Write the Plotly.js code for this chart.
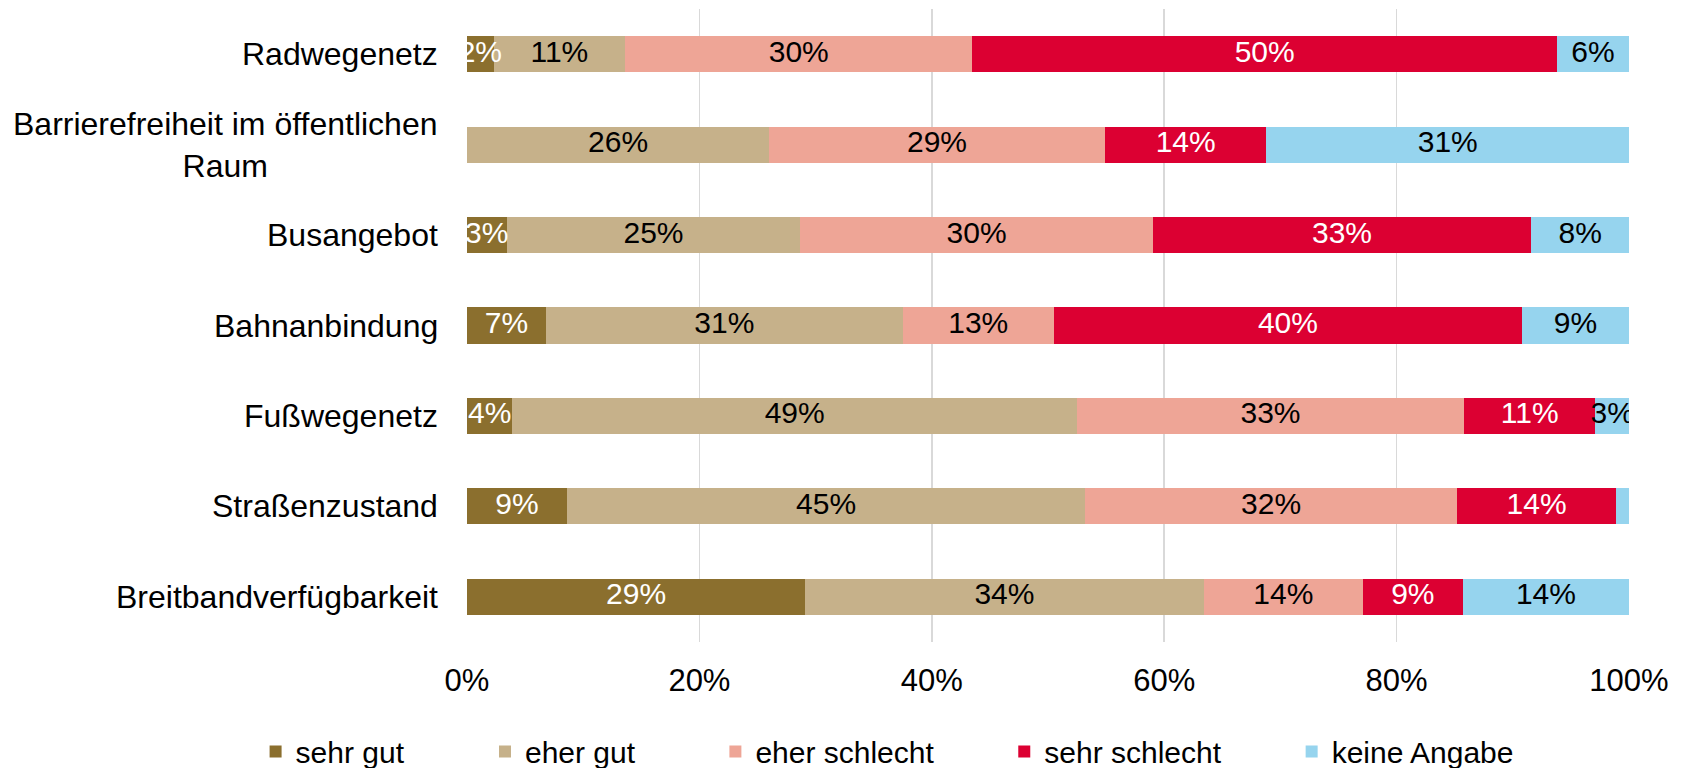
<!DOCTYPE html>
<html>
<head>
<meta charset="utf-8">
<script src="https://cdn.plot.ly/plotly-3.0.1.min.js"></script>
<style>
html, body { margin: 0; padding: 0; background: #fff; }
#chart { width: 1688px; height: 768px; }
</style>
</head>
<body>
<div id="chart"></div>
<script>
// Categories, top to bottom
const categories = [
  'Radwegenetz',
  'Barrierefreiheit im öffentlichen<br>Raum',
  'Busangebot',
  'Bahnanbindung',
  'Fußwegenetz',
  'Straßenzustand',
  'Breitbandverfügbarkeit'
];
const seriesNames = ['sehr gut', 'eher gut', 'eher schlecht', 'sehr schlecht', 'keine Angabe'];
const sehrGut      = [2.3, 0,    3.4,  6.8,  3.9,  8.6,  29.1];
const eherGut      = [11.3, 26.0, 25.3, 30.7, 48.6, 44.6, 34.3];
const eherSchlecht = [29.9, 28.9, 30.3, 13.0, 33.3, 32.0, 13.7];
const sehrSchlecht = [50.3, 13.9, 32.6, 40.3, 11.3, 13.7, 8.6];
const keineAngabe  = [6.2, 31.2, 8.4,  9.2,  2.9,  1.1,  14.3];
const xTicks = [0, 20, 40, 60, 80, 100];

const seriesValues = [sehrGut, eherGut, eherSchlecht, sehrSchlecht, keineAngabe];
const colors = ['#8B6F2E', '#C6B18A', '#EEA596', '#DC0032', '#96D4EE'];
const textColors = ['#FFFFFF', '#000000', '#000000', '#FFFFFF', '#000000'];
const FONT = '"Liberation Sans", Arial, sans-serif';

const legendNames = ['legend', 'legend2', 'legend3', 'legend4', 'legend5'];
const legendPix = [255, 484.5, 715, 1004, 1291.5];
const plotL = 466.5, plotW = 1162.5;

const traces = [];
seriesValues.forEach((vals, i) => {
  traces.push({
    type: 'bar',
    orientation: 'h',
    name: seriesNames[i],
    y: categories,
    x: vals,
    marker: { color: colors[i], line: { width: 0 } },
    legend: legendNames[i],
    hoverinfo: 'skip'
  });
});
// data labels as text-only scatter traces on top of all bars
const cum = categories.map(() => 0);
seriesValues.forEach((vals, i) => {
  const mids = vals.map((v, j) => cum[j] + v / 2);
  vals.forEach((v, j) => { cum[j] += v; });
  traces.push({
    type: 'scatter',
    mode: 'text',
    y: categories,
    x: mids,
    text: vals.map(v => v >= 1.5 ? Math.round(v) + '%' : ''),
    textposition: 'middle center',
    textfont: { family: FONT, size: 30, color: textColors[i] },
    showlegend: false,
    hoverinfo: 'skip',
    cliponaxis: true
  });
});

const annotations = categories.map(c => ({
  xref: 'paper', yref: 'y',
  x: 0, y: c,
  xanchor: 'right', yanchor: 'middle',
  xshift: -27,
  align: 'center',
  showarrow: false,
  text: c,
  font: { family: FONT, size: 32, color: '#000' }
}));

const layout = {
  width: 1688, height: 768,
  margin: { l: 466.5, r: 59, t: 9, b: 126, autoexpand: false },
  paper_bgcolor: '#fff', plot_bgcolor: '#fff',
  barmode: 'stack',
  bargap: 0.6,
  font: { family: FONT, color: '#000' },
  xaxis: {
    range: [0, 100],
    tickvals: xTicks,
    ticktext: xTicks.map(t => t + '%'),
    showgrid: true, gridcolor: '#D9D9D9', gridwidth: 1.5,
    zeroline: false, showline: false,
    ticks: '',
    ticklabelstandoff: 17,
    tickfont: { family: FONT, size: 31, color: '#000' },
    fixedrange: true
  },
  yaxis: {
    type: 'category',
    range: [6.5, -0.5],
    showticklabels: false,
    showgrid: false, zeroline: false, showline: false,
    ticks: '',
    fixedrange: true
  },
  annotations: annotations,
  showlegend: true
};
legendNames.forEach((ln, i) => {
  layout[ln] = {
    x: (legendPix[i] - plotL) / plotW,
    xanchor: 'left',
    y: -0.173, yanchor: 'middle',
    orientation: 'h',
    bgcolor: 'rgba(0,0,0,0)',
    font: { family: FONT, size: 30, color: '#000' },
    itemclick: false, itemdoubleclick: false
  };
});

Plotly.newPlot('chart', traces, layout, { displayModeBar: false, staticPlot: true });
</script>
</body>
</html>
